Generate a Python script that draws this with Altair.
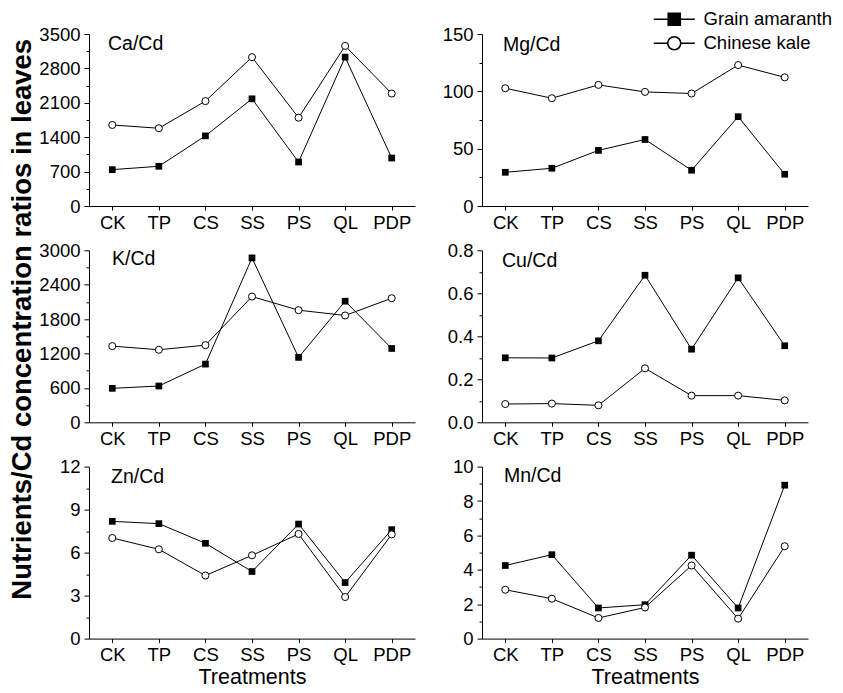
import altair as alt
import pandas as pd

treatments = ["CK", "TP", "CS", "SS", "PS", "QL", "PDP"]
series_names = ["Grain amaranth", "Chinese kale"]

ca_grain = [740, 808, 1427, 2181, 895, 3029, 976]
ca_kale = [1649, 1582, 2134, 3029, 1797, 3258, 2288]
mg_grain = [29.4, 32.9, 48.5, 58.0, 31.2, 77.9, 27.7]
mg_kale = [102.7, 94.0, 105.6, 99.5, 98.1, 122.9, 112.2]
k_grain = [592, 633, 1015, 2867, 1132, 2112, 1288]
k_kale = [1329, 1265, 1346, 2193, 1956, 1863, 2164]
cu_grain = [0.300, 0.299, 0.379, 0.684, 0.340, 0.672, 0.356]
cu_kale = [0.085, 0.087, 0.079, 0.251, 0.124, 0.124, 0.102]
zn_grain = [8.18, 8.02, 6.65, 4.68, 7.99, 3.91, 7.60]
zn_kale = [7.02, 6.23, 4.40, 5.81, 7.30, 2.90, 7.27]
mn_grain = [4.25, 4.88, 1.78, 1.97, 4.85, 1.78, 8.92]
mn_kale = [2.84, 2.32, 1.20, 1.81, 4.25, 1.16, 5.37]

FONT = "Liberation Sans"
W, H = 326, 172

# legend symbols: line with marker through it
SQ_PATH = "M-2.93,0H2.93M-0.86,-0.86H0.86V0.86H-0.86Z"
CI_PATH = ("M-2.93,0H-0.93M0.93,0H2.93M-0.93,0A0.93,0.93 0 1,1 0.93,0"
           "A0.93,0.93 0 1,1 -0.93,0Z")


def make_panel(label, grain, kale, ymax, step, fmt, dx, dy,
               xtitle=False, ytitle=False, legend=False):
    df = pd.DataFrame({
        "Treatment": treatments + treatments,
        "Series": [series_names[0]] * len(treatments) + [series_names[1]] * len(treatments),
        "Value": list(grain) + list(kale),
    })
    half = step / 2
    n = int(round(ymax / half))
    tick_vals = [round(i * half, 6) for i in range(n + 1)]
    major = f"abs(datum.value / {step} - round(datum.value / {step})) < 0.000001"
    x = alt.X(
        "Treatment:N", sort=treatments,
        scale=alt.Scale(type="point", padding=0.5),
        axis=alt.Axis(
            title="Treatments" if xtitle else None, labelAngle=0, tickSize=4,
            labelPadding=3, titlePadding=2, titleFontSize=21.5,
            titleFontWeight="normal",
        ),
    )
    yk = dict(
        values=tick_vals,
        labelExpr=f"({major}) ? format(datum.value, '{fmt}') : ''",
        tickSize={"condition": {"test": major, "value": 5}, "value": 3},
        labelPadding=4,
    )
    if ytitle:
        yk.update(
            title="Nutrients/Cd concentration ratios in leaves",
            titleX=-58.5, titleY=68.5, titleAngle=270, titleBaseline="alphabetic",
            titleAlign="center", titleFontSize=27.5, titleFontWeight="bold",
        )
    else:
        yk.update(title=None)
    y = alt.Y("Value:Q", scale=alt.Scale(domain=[0, ymax], nice=False, zero=True),
              axis=alt.Axis(**yk))
    base = alt.Chart(df).encode(x=x, y=y)
    line = base.mark_line(color="black", strokeWidth=1).encode(detail="Series:N")
    sq = base.transform_filter(alt.datum.Series == series_names[0]).mark_point(
        shape="square", filled=True, color="black", size=45, opacity=1)
    ci = base.transform_filter(alt.datum.Series == series_names[1]).mark_point(
        shape="circle", filled=True, fill="white", stroke="black",
        strokeWidth=1, size=50, opacity=1)
    lab = alt.Chart(pd.DataFrame({"label": [label]})).mark_text(
        align="left", baseline="alphabetic", fontSize=19.5, font=FONT, color="black"
    ).encode(x=alt.value(dx), y=alt.value(dy), text="label:N")
    layers = [line, sq, ci, lab]
    if legend:
        leg = alt.Legend(
            title=None, orient="none", legendX=183, legendY=-24, padding=0,
            labelFontSize=18.5, labelFont=FONT, labelColor="black",
            symbolSize=196, labelOffset=20, rowPadding=4,
            symbolStrokeColor="black", symbolStrokeWidth=1.6,
        )
        lg = base.transform_filter("false").mark_point(
            filled=False, color="black", strokeWidth=1.6, opacity=1).encode(
            shape=alt.Shape("Series:N", scale=alt.Scale(domain=series_names,
                                                        range=[SQ_PATH, CI_PATH]),
                            legend=leg),
            fill=alt.Fill("Series:N", scale=alt.Scale(domain=series_names,
                                                      range=["black", "white"]),
                          legend=leg),
            stroke=alt.Stroke("Series:N", scale=alt.Scale(domain=series_names,
                                                          range=["black", "black"]),
                              legend=leg),
        )
        layers.append(lg)
    return alt.layer(*layers).properties(width=W, height=H)


ca = make_panel("Ca/Cd", ca_grain, ca_kale, 3500, 700, "d", 19, 16)
mg = make_panel("Mg/Cd", mg_grain, mg_kale, 150, 50, "d", 21, 17, legend=True)
kk = make_panel("K/Cd", k_grain, k_kale, 3000, 600, "d", 23, 14.5, ytitle=True)
cu = make_panel("Cu/Cd", cu_grain, cu_kale, 0.8, 0.2, ".1f", 20, 16.5)
zn = make_panel("Zn/Cd", zn_grain, zn_kale, 12, 3, "d", 22, 16, xtitle=True)
mn = make_panel("Mn/Cd", mn_grain, mn_kale, 10, 2, "d", 22, 15.5, xtitle=True)

chart = alt.concat(
    ca, mg, kk, cu, zn, mn, columns=2, bounds="flush",
    spacing={"row": 44.3, "column": 67},
).resolve_legend(
    shape="independent", fill="independent", stroke="independent"
).properties(
    padding={"left": 0, "top": 2, "right": 0, "bottom": 0},
).configure_view(
    stroke=None
).configure_axis(
    grid=False, domainColor="black", tickColor="black", labelColor="black",
    titleColor="black", labelFont=FONT, titleFont=FONT, labelFontSize=18.5,
    domainWidth=1, tickWidth=1,
)

chart.save("out.html", embed_options={"renderer": "svg", "actions": False})
